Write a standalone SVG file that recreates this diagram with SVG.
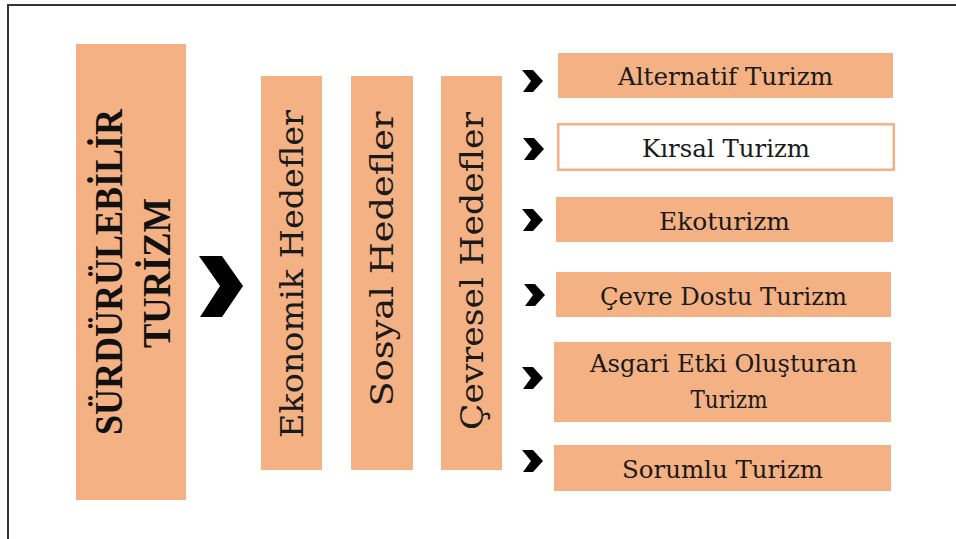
<svg xmlns="http://www.w3.org/2000/svg" width="956" height="539" viewBox="0 0 956 539">
<style>
.box{fill:#F4B183;}
.wbox{fill:#ffffff;stroke:#F4B183;stroke-width:2.5;}
.title{font-family:"Liberation Serif","DejaVu Serif",serif;font-weight:bold;font-size:39px;fill:#111;}
.vt{font-family:"DejaVu Serif","Liberation Serif",serif;font-size:31px;fill:#1a1a1a;}
.ht{font-family:"DejaVu Serif","Liberation Serif",serif;font-size:24px;fill:#1a1a1a;}
.chev{fill:#000;}
</style>
<rect width="956" height="539" fill="#fff"/>
<path d="M8,539 L8,5 L956,5" fill="none" stroke="#333" stroke-width="2"/>

<g id="main">
<rect class="box" x="76" y="44" width="110" height="456"/>
<text class="title" text-anchor="middle" transform="translate(122,272) rotate(-90)" textLength="326" lengthAdjust="spacingAndGlyphs">SÜRDÜRÜLEBİLİR</text>
<text class="title" text-anchor="middle" transform="translate(170,273) rotate(-90)" textLength="150" lengthAdjust="spacingAndGlyphs">TURİZM</text>
</g>

<g id="ekonomik">
<rect class="box" x="261" y="76" width="61" height="394"/>
<text class="vt" text-anchor="middle" transform="translate(303,274) rotate(-90)" textLength="328" lengthAdjust="spacingAndGlyphs">Ekonomik Hedefler</text>
</g>
<g id="sosyal">
<rect class="box" x="351" y="76" width="62" height="394"/>
<text class="vt" text-anchor="middle" transform="translate(393,259) rotate(-90)" textLength="295" lengthAdjust="spacingAndGlyphs">Sosyal Hedefler</text>
</g>
<g id="cevresel">
<rect class="box" x="441" y="76" width="61" height="394"/>
<text class="vt" text-anchor="middle" transform="translate(483,271) rotate(-90)" textLength="318" lengthAdjust="spacingAndGlyphs">Çevresel Hedefler</text>
</g>

<g id="alternatif">
<rect class="box" x="558" y="53" width="335" height="45"/>
<text class="ht" x="725.5" y="85" text-anchor="middle" textLength="215" lengthAdjust="spacingAndGlyphs">Alternatif Turizm</text>
</g>
<g id="kirsal">
<rect class="wbox" x="558.25" y="124.25" width="335.5" height="45.5"/>
<text class="ht" x="726" y="157" text-anchor="middle" textLength="168" lengthAdjust="spacingAndGlyphs">Kırsal Turizm</text>
</g>
<g id="ekoturizm">
<rect class="box" x="556" y="197" width="337" height="45"/>
<text class="ht" x="724.5" y="230" text-anchor="middle" textLength="131" lengthAdjust="spacingAndGlyphs">Ekoturizm</text>
</g>
<g id="cevre-dostu">
<rect class="box" x="556" y="272" width="335" height="45"/>
<text class="ht" x="723.5" y="305" text-anchor="middle" textLength="247" lengthAdjust="spacingAndGlyphs">Çevre Dostu Turizm</text>
</g>
<g id="asgari">
<rect class="box" x="554" y="342" width="337" height="80"/>
<text class="ht" x="723.5" y="372" text-anchor="middle" textLength="267" lengthAdjust="spacingAndGlyphs">Asgari Etki Oluşturan</text>
<text class="ht" x="729" y="408" text-anchor="middle" textLength="77" lengthAdjust="spacingAndGlyphs">Turizm</text>
</g>
<g id="sorumlu">
<rect class="box" x="554" y="445" width="337" height="46"/>
<text class="ht" x="722.5" y="478" text-anchor="middle" textLength="201" lengthAdjust="spacingAndGlyphs">Sorumlu Turizm</text>
</g>

<g id="connectors">
<polygon class="chev" points="199,256 222,256 243,286 222,317 200,317 220,286"/>
<g transform="translate(0,81)"><polygon class="chev" points="522,-11 533,-11 543,0 533,11 523,11 531,0"/></g>
<g transform="translate(1,149)"><polygon class="chev" points="522,-11 533,-11 543,0 533,11 523,11 531,0"/></g>
<g transform="translate(0,220)"><polygon class="chev" points="522,-11 533,-11 543,0 533,11 523,11 531,0"/></g>
<g transform="translate(2,295)"><polygon class="chev" points="522,-11 533,-11 543,0 533,11 523,11 531,0"/></g>
<g transform="translate(0,378)"><polygon class="chev" points="522,-11 533,-11 543,0 533,11 523,11 531,0"/></g>
<g transform="translate(0,461)"><polygon class="chev" points="522,-11 533,-11 543,0 533,11 523,11 531,0"/></g>
</g>
</svg>
